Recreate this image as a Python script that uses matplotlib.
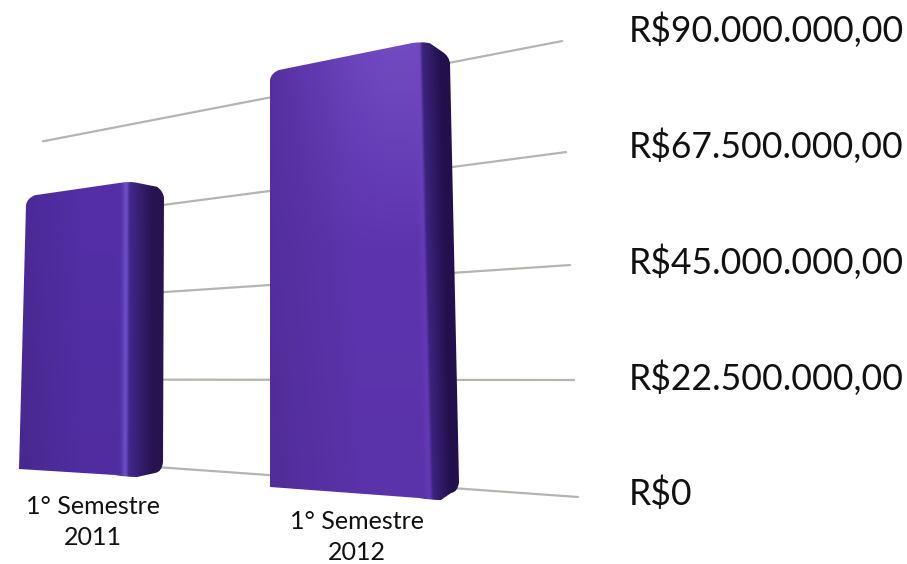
import numpy as np
import matplotlib
matplotlib.use('Agg')
import matplotlib.pyplot as plt
from matplotlib.path import Path
from matplotlib.patches import PathPatch

# values in millions of R$
categories = ['1° Semestre\n2011', '1° Semestre\n2012']
bar_values = [60, 88]
tick_values = [0, 22.5, 45, 67.5, 90]
tick_labels = ['R$0', 'R$22.500.000,00', 'R$45.000.000,00', 'R$67.500.000,00', 'R$90.000.000,00']

# screen layout of the fake 3d plot, pixels
bar_layout = [
    {'x': (19, 127, 163), 'lean': (7, 1, 0), 'base': (469, 476, 470), 'scale': (4.53, 4.90, 4.67),
     'label': (93, 495), 'front': '#542fa8', 'shine': 0.0, 'ridge': '#6f52cc',
     'glow': 0.85, 'side': ('#44298e', '#26134f')},
    {'x': (270, 431, 459), 'lean': (0, -11, -10), 'base': (487, 499, 490), 'scale': (4.716, 5.19, 4.94),
     'label': (357, 510), 'front': '#5f35b2', 'shine': 0.32, 'ridge': '#6f44c4',
     'glow': 0.35, 'side': ('#3f2684', '#22104c')},
]


def hex_rgb(c):
    return np.array(matplotlib.colors.to_rgb(c))


def grid_y(v, x):
    # lines fan out from the left, slight perspective on the right end
    left = 459 - 3.53 * v
    right = 497 - 5.246 * v / (1 + 0.000395 * v)
    return left + (right - left) * (x - 43) / (578 - 43 - v * 16 / 90)


def value_y(v):
    return 494 - v * 5.15


def bar_outline(lay, value):
    xs, lean, base, scale = lay['x'], lay['lean'], lay['base'], lay['scale']
    top = [b - s * value for b, s in zip(base, scale)]
    xt = [x + l for x, l in zip(xs, lean)]
    xl, xm, xr = xt
    tl, tm, tr = top
    verts = [(xs[0], base[0]), (xl, tl + 8), (xl + 1, tl + 1), (xl + 9, tl - 2), (xm - 9, tm + 1),
             (xm + 2, tm - 1), (xm + 10, tm + 1), (xr - 6, tr - 3), (xr, tr + 1), (xr + 1, tr + 8),
             (xs[2], base[2] - 8), (xs[2] - 1, base[2] + 2), (xs[2] - 8, base[2] + 3), (xs[1] + 10, base[1] + 1),
             (xs[1] - 2, base[1] + 1), (xs[1] - 12, base[1] - 1), (xs[0], base[0])]
    codes = [Path.MOVETO, Path.LINETO, Path.CURVE3, Path.CURVE3, Path.LINETO, Path.CURVE3, Path.CURVE3,
             Path.LINETO, Path.CURVE3, Path.CURVE3, Path.LINETO, Path.CURVE3, Path.CURVE3, Path.LINETO,
             Path.CURVE3, Path.CURVE3, Path.LINETO]
    return Path(verts, codes), top, xt


def draw_bar(ax, lay, value):
    path, top, xt = bar_outline(lay, value)
    x0, x1 = min(lay['x'][0], xt[0]) - 2, max(lay['x'][2], xt[2]) + 3
    y0, y1 = min(top) - 4, max(lay['base']) + 5
    xx, yy = np.meshgrid(np.arange(x0, x1, 0.5), np.arange(y0, y1, 0.5))

    # ridge between front and side faces
    h = (yy - top[1]) / (lay['base'][1] - top[1])
    ridge = xt[1] + (lay['x'][1] - xt[1]) * h
    edge_l = xt[0] + (lay['x'][0] - xt[0]) * h
    edge_r = xt[2] + (lay['x'][2] - xt[2]) * h

    t = np.clip((xx - edge_l) / (ridge - edge_l), 0, 1)
    hc = np.clip(h, 0, 1)
    # darker to the left and to the bottom, lit near the top right
    shade = 0.90 + 0.10 * np.minimum(t * 1.8, 1) - 0.05 * hc
    front = hex_rgb(lay['front'])[None, None, :] * shade[..., None]
    shine = (lay['shine'] * np.clip(1 - hc * 2.2, 0, 1) * np.clip(t * 1.3, 0, 1))[..., None]
    front = front + (hex_rgb('#9a7ae0') - front) * shine
    glow = np.exp(-((xx - ridge + 2) / 3.5) ** 2)[..., None]
    front = front + (hex_rgb(lay['ridge']) - front) * glow * lay['glow']

    s = np.clip((xx - ridge) / (edge_r - ridge), 0, 1)[..., None]
    c0, c1 = [hex_rgb(c) for c in lay['side']]
    side = c0 + (c1 - c0) * np.minimum(s * 1.4, 1)
    blend = np.clip((xx - ridge + 1) / 3, 0, 1)[..., None]
    img = np.clip(front + (side - front) * blend, 0, 1)

    im = ax.imshow(img, extent=(x0, x1, y1, y0), aspect='auto', interpolation='bilinear', zorder=3)
    im.set_clip_path(PathPatch(path, transform=ax.transData))


fig = plt.figure(figsize=(9.07, 5.64), dpi=100)
ax = fig.add_axes([0, 0, 1, 1])

for v in tick_values:
    x_end = 578 - v * 16 / 90
    ax.plot([43, x_end], [grid_y(v, 43), grid_y(v, x_end)], color='#b4b4b0', lw=1.6, zorder=1,
            solid_capstyle='round')

for lay, value, name in zip(bar_layout, bar_values, categories):
    draw_bar(ax, lay, value)
    ax.text(lay['label'][0], lay['label'][1], name, ha='center', va='top', fontsize=18,
            family='Lato', color='#111111', linespacing=1.42, zorder=4)

for v, lab in zip(tick_values, tick_labels):
    ax.text(629, value_y(v), lab, ha='left', va='center', fontsize=25.6, family='Lato', color='#111111')

ax.set_xlim(0, 907)
ax.set_ylim(564, 0)
ax.axis('off')
fig.savefig('out.png', dpi=100)
